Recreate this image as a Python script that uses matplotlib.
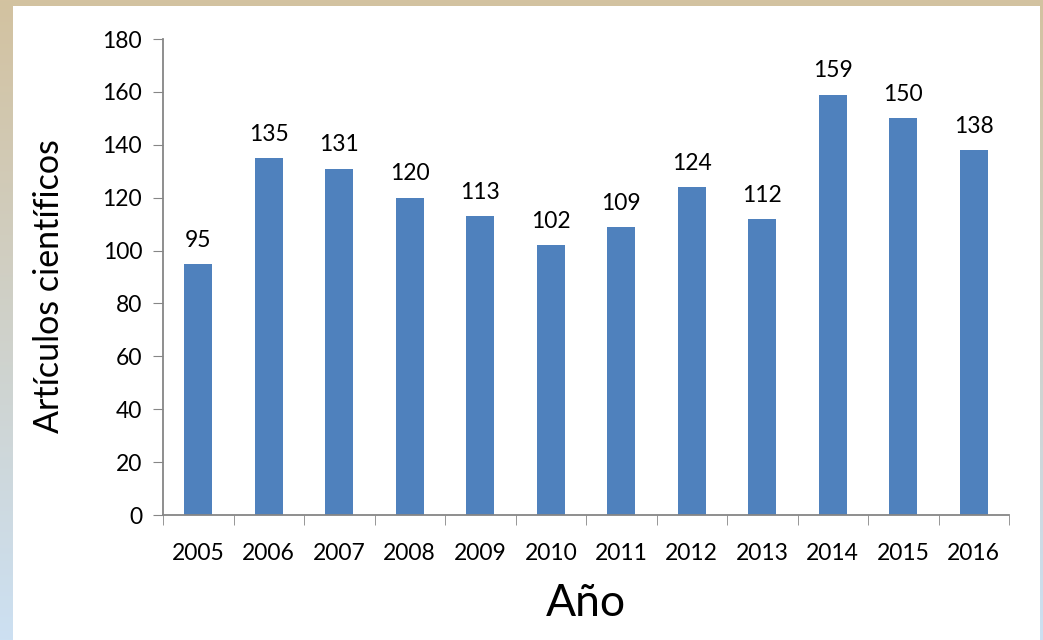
import numpy as np
import matplotlib.pyplot as plt
from matplotlib.patches import Rectangle

# Data
years = ['2005', '2006', '2007', '2008', '2009', '2010',
         '2011', '2012', '2013', '2014', '2015', '2016']
articles = [95, 135, 131, 120, 113, 102, 109, 124, 112, 159, 150, 138]

plt.rcParams['font.family'] = ['Lato', 'DejaVu Sans']

fig = plt.figure(figsize=(10.43, 6.4), dpi=100)

# Background: gradient frame with a white panel
bg = fig.add_axes([0, 0, 1, 1])
top = np.array([211, 194, 160]) / 255
bottom = np.array([204, 224, 242]) / 255
t = np.linspace(0, 1, 256)[:, None]
grad = top * (1 - t) + bottom * t
bg.imshow(grad[:, None, :].repeat(2, axis=1), aspect='auto', extent=[0, 1, 0, 1])
bg.add_patch(Rectangle((13 / 1043, 0), (1040 - 13) / 1043, 1 - 6 / 640,
                       facecolor='white', edgecolor='none'))
bg.set_xlim(0, 1)
bg.set_ylim(0, 1)
bg.axis('off')

ax = fig.add_axes([163 / 1043, 1 - 515 / 640, (1009 - 163) / 1043, (515 - 39) / 640])
ax.set_facecolor('none')
x = np.arange(len(years))
bars = ax.bar(x, articles, width=0.4, color='#4F81BD')

for xi, v in zip(x, articles):
    ax.text(xi, v + 5, str(v), ha='center', va='bottom', fontsize=16.5)

ax.set_xlim(-0.5, len(years) - 0.5)
ax.set_ylim(0, 180)
ax.set_yticks(range(0, 181, 20))
ax.tick_params(axis='y', labelsize=16.5, length=7, color='#868686', pad=8)
ax.set_xticks(x)
ax.set_xticklabels(years)
ax.tick_params(axis='x', which='major', length=0, labelsize=16.5, pad=20)
ax.set_xticks(np.arange(-0.5, len(years)), minor=True)
ax.tick_params(axis='x', which='minor', length=7, color='#868686')

for side in ['top', 'right']:
    ax.spines[side].set_visible(False)
for side in ['left', 'bottom']:
    ax.spines[side].set_color('#868686')
    ax.spines[side].set_linewidth(1.3)

ax.set_ylabel('Artículos científicos', fontsize=24.5, va='center')
ax.yaxis.set_label_coords(-0.135, 0.48)
ax.set_xlabel('Año', fontsize=32, labelpad=14)

fig.savefig('out.png', dpi=100)
